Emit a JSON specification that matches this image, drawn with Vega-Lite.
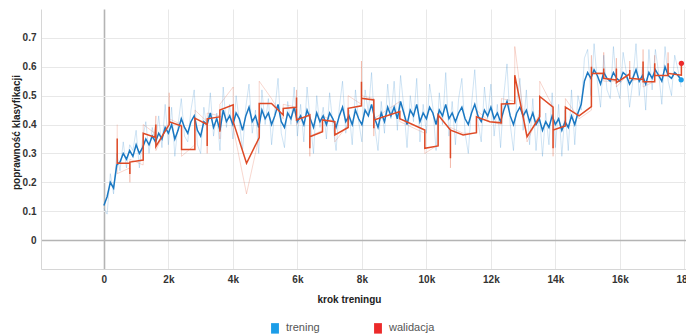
{
  "$schema": "https://vega.github.io/schema/vega-lite/v6.json",
  "width": 645,
  "height": 260,
  "autosize": {"type": "none"},
  "padding": {"left": 41, "top": 9, "right": 0, "bottom": 66},
  "background": "white",
  "datasets": {
    "trening": [
      {"krok":0,"wygladzona":0.12,"surowa":0.11},{"krok":100,"wygladzona":0.15,"surowa":0.09},{"krok":200,"wygladzona":0.20,"surowa":0.23},{"krok":300,"wygladzona":0.18,"surowa":0.16},{"krok":400,"wygladzona":0.26,"surowa":0.30},{"krok":500,"wygladzona":0.27,"surowa":0.24},{"krok":600,"wygladzona":0.30,"surowa":0.34},{"krok":700,"wygladzona":0.28,"surowa":0.25},{"krok":800,"wygladzona":0.31,"surowa":0.33},{"krok":900,"wygladzona":0.29,"surowa":0.31},
      {"krok":1000,"wygladzona":0.33,"surowa":0.38},{"krok":1100,"wygladzona":0.30,"surowa":0.25},{"krok":1200,"wygladzona":0.32,"surowa":0.35},{"krok":1300,"wygladzona":0.35,"surowa":0.41},{"krok":1400,"wygladzona":0.33,"surowa":0.30},{"krok":1500,"wygladzona":0.36,"surowa":0.39},{"krok":1600,"wygladzona":0.34,"surowa":0.33},{"krok":1700,"wygladzona":0.37,"surowa":0.43},{"krok":1800,"wygladzona":0.35,"surowa":0.32},{"krok":1900,"wygladzona":0.39,"surowa":0.47},
      {"krok":2000,"wygladzona":0.37,"surowa":0.33},{"krok":2100,"wygladzona":0.40,"surowa":0.46},{"krok":2200,"wygladzona":0.35,"surowa":0.29},{"krok":2300,"wygladzona":0.38,"surowa":0.40},{"krok":2400,"wygladzona":0.42,"surowa":0.49},{"krok":2500,"wygladzona":0.39,"surowa":0.36},{"krok":2600,"wygladzona":0.37,"surowa":0.34},{"krok":2700,"wygladzona":0.41,"surowa":0.45},{"krok":2800,"wygladzona":0.43,"surowa":0.52},{"krok":2900,"wygladzona":0.38,"surowa":0.33},
      {"krok":3000,"wygladzona":0.36,"surowa":0.30},{"krok":3100,"wygladzona":0.41,"surowa":0.46},{"krok":3200,"wygladzona":0.40,"surowa":0.38},{"krok":3300,"wygladzona":0.44,"surowa":0.51},{"krok":3400,"wygladzona":0.39,"surowa":0.36},{"krok":3500,"wygladzona":0.42,"surowa":0.44},{"krok":3600,"wygladzona":0.38,"surowa":0.31},{"krok":3700,"wygladzona":0.45,"surowa":0.53},{"krok":3800,"wygladzona":0.41,"surowa":0.39},{"krok":3900,"wygladzona":0.43,"surowa":0.47},
      {"krok":4000,"wygladzona":0.40,"surowa":0.35},{"krok":4100,"wygladzona":0.44,"surowa":0.50},{"krok":4200,"wygladzona":0.42,"surowa":0.41},{"krok":4300,"wygladzona":0.38,"surowa":0.31},{"krok":4400,"wygladzona":0.43,"surowa":0.46},{"krok":4500,"wygladzona":0.46,"surowa":0.54},{"krok":4600,"wygladzona":0.41,"surowa":0.37},{"krok":4700,"wygladzona":0.43,"surowa":0.45},{"krok":4800,"wygladzona":0.39,"surowa":0.30},{"krok":4900,"wygladzona":0.45,"surowa":0.52},
      {"krok":5000,"wygladzona":0.42,"surowa":0.40},{"krok":5100,"wygladzona":0.44,"surowa":0.49},{"krok":5200,"wygladzona":0.40,"surowa":0.33},{"krok":5300,"wygladzona":0.43,"surowa":0.45},{"krok":5400,"wygladzona":0.47,"surowa":0.56},{"krok":5500,"wygladzona":0.41,"surowa":0.37},{"krok":5600,"wygladzona":0.39,"surowa":0.32},{"krok":5700,"wygladzona":0.44,"surowa":0.48},{"krok":5800,"wygladzona":0.42,"surowa":0.40},{"krok":5900,"wygladzona":0.46,"surowa":0.53},
      {"krok":6000,"wygladzona":0.41,"surowa":0.36},{"krok":6100,"wygladzona":0.43,"surowa":0.47},{"krok":6200,"wygladzona":0.40,"surowa":0.34},{"krok":6300,"wygladzona":0.45,"surowa":0.53},{"krok":6400,"wygladzona":0.42,"surowa":0.41},{"krok":6500,"wygladzona":0.39,"surowa":0.30},{"krok":6600,"wygladzona":0.44,"surowa":0.50},{"krok":6700,"wygladzona":0.41,"surowa":0.39},{"krok":6800,"wygladzona":0.43,"surowa":0.46},{"krok":6900,"wygladzona":0.40,"surowa":0.35},
      {"krok":7000,"wygladzona":0.44,"surowa":0.51},{"krok":7100,"wygladzona":0.42,"surowa":0.40},{"krok":7200,"wygladzona":0.39,"surowa":0.31},{"krok":7300,"wygladzona":0.43,"surowa":0.46},{"krok":7400,"wygladzona":0.46,"surowa":0.55},{"krok":7500,"wygladzona":0.41,"surowa":0.37},{"krok":7600,"wygladzona":0.43,"surowa":0.45},{"krok":7700,"wygladzona":0.40,"surowa":0.33},{"krok":7800,"wygladzona":0.45,"surowa":0.52},{"krok":7900,"wygladzona":0.42,"surowa":0.41},
      {"krok":8000,"wygladzona":0.40,"surowa":0.34},{"krok":8100,"wygladzona":0.45,"surowa":0.52},{"krok":8200,"wygladzona":0.43,"surowa":0.44},{"krok":8300,"wygladzona":0.47,"surowa":0.58},{"krok":8400,"wygladzona":0.42,"surowa":0.39},{"krok":8500,"wygladzona":0.39,"surowa":0.31},{"krok":8600,"wygladzona":0.44,"surowa":0.48},{"krok":8700,"wygladzona":0.41,"surowa":0.37},{"krok":8800,"wygladzona":0.46,"surowa":0.54},{"krok":8900,"wygladzona":0.43,"surowa":0.42},
      {"krok":9000,"wygladzona":0.46,"surowa":0.55},{"krok":9100,"wygladzona":0.42,"surowa":0.38},{"krok":9200,"wygladzona":0.48,"surowa":0.57},{"krok":9300,"wygladzona":0.44,"surowa":0.46},{"krok":9400,"wygladzona":0.40,"surowa":0.32},{"krok":9500,"wygladzona":0.45,"surowa":0.50},{"krok":9600,"wygladzona":0.43,"surowa":0.41},{"krok":9700,"wygladzona":0.47,"surowa":0.56},{"krok":9800,"wygladzona":0.41,"surowa":0.34},{"krok":9900,"wygladzona":0.44,"surowa":0.47},
      {"krok":10000,"wygladzona":0.42,"surowa":0.37},{"krok":10100,"wygladzona":0.46,"surowa":0.54},{"krok":10200,"wygladzona":0.44,"surowa":0.46},{"krok":10300,"wygladzona":0.40,"surowa":0.31},{"krok":10400,"wygladzona":0.45,"surowa":0.51},{"krok":10500,"wygladzona":0.43,"surowa":0.40},{"krok":10600,"wygladzona":0.47,"surowa":0.58},{"krok":10700,"wygladzona":0.42,"surowa":0.36},{"krok":10800,"wygladzona":0.44,"surowa":0.48},{"krok":10900,"wygladzona":0.41,"surowa":0.33},
      {"krok":11000,"wygladzona":0.44,"surowa":0.49},{"krok":11100,"wygladzona":0.46,"surowa":0.56},{"krok":11200,"wygladzona":0.42,"surowa":0.37},{"krok":11300,"wygladzona":0.40,"surowa":0.30},{"krok":11400,"wygladzona":0.44,"surowa":0.47},{"krok":11500,"wygladzona":0.47,"surowa":0.59},{"krok":11600,"wygladzona":0.43,"surowa":0.41},{"krok":11700,"wygladzona":0.41,"surowa":0.34},{"krok":11800,"wygladzona":0.45,"surowa":0.53},{"krok":11900,"wygladzona":0.43,"surowa":0.42},
      {"krok":12000,"wygladzona":0.46,"surowa":0.54},{"krok":12100,"wygladzona":0.42,"surowa":0.36},{"krok":12200,"wygladzona":0.44,"surowa":0.47},{"krok":12300,"wygladzona":0.41,"surowa":0.32},{"krok":12400,"wygladzona":0.45,"surowa":0.50},{"krok":12500,"wygladzona":0.48,"surowa":0.61},{"krok":12600,"wygladzona":0.43,"surowa":0.40},{"krok":12700,"wygladzona":0.40,"surowa":0.31},{"krok":12800,"wygladzona":0.44,"surowa":0.48},{"krok":12900,"wygladzona":0.46,"surowa":0.56},
      {"krok":13000,"wygladzona":0.43,"surowa":0.38},{"krok":13100,"wygladzona":0.45,"surowa":0.52},{"krok":13200,"wygladzona":0.41,"surowa":0.33},{"krok":13300,"wygladzona":0.44,"surowa":0.49},{"krok":13400,"wygladzona":0.40,"surowa":0.31},{"krok":13500,"wygladzona":0.42,"surowa":0.45},{"krok":13600,"wygladzona":0.38,"surowa":0.29},{"krok":13700,"wygladzona":0.41,"surowa":0.44},{"krok":13800,"wygladzona":0.39,"surowa":0.33},{"krok":13900,"wygladzona":0.43,"surowa":0.51},
      {"krok":14000,"wygladzona":0.40,"surowa":0.32},{"krok":14100,"wygladzona":0.42,"surowa":0.47},{"krok":14200,"wygladzona":0.38,"surowa":0.29},{"krok":14300,"wygladzona":0.41,"surowa":0.45},{"krok":14400,"wygladzona":0.39,"surowa":0.31},{"krok":14500,"wygladzona":0.43,"surowa":0.52},{"krok":14600,"wygladzona":0.40,"surowa":0.33},{"krok":14700,"wygladzona":0.44,"surowa":0.50},{"krok":14800,"wygladzona":0.47,"surowa":0.45},{"krok":14900,"wygladzona":0.55,"surowa":0.63},
      {"krok":15000,"wygladzona":0.58,"surowa":0.66},{"krok":15100,"wygladzona":0.56,"surowa":0.50},{"krok":15200,"wygladzona":0.59,"surowa":0.68},{"krok":15300,"wygladzona":0.57,"surowa":0.55},{"krok":15400,"wygladzona":0.54,"surowa":0.46},{"krok":15500,"wygladzona":0.58,"surowa":0.64},{"krok":15600,"wygladzona":0.56,"surowa":0.52},{"krok":15700,"wygladzona":0.55,"surowa":0.49},{"krok":15800,"wygladzona":0.58,"surowa":0.67},{"krok":15900,"wygladzona":0.56,"surowa":0.53},
      {"krok":16000,"wygladzona":0.55,"surowa":0.49},{"krok":16100,"wygladzona":0.58,"surowa":0.65},{"krok":16200,"wygladzona":0.57,"surowa":0.58},{"krok":16300,"wygladzona":0.54,"surowa":0.46},{"krok":16400,"wygladzona":0.56,"surowa":0.55},{"krok":16500,"wygladzona":0.59,"surowa":0.68},{"krok":16600,"wygladzona":0.55,"surowa":0.50},{"krok":16700,"wygladzona":0.57,"surowa":0.60},{"krok":16800,"wygladzona":0.54,"surowa":0.45},{"krok":16900,"wygladzona":0.58,"surowa":0.66},
      {"krok":17000,"wygladzona":0.56,"surowa":0.52},{"krok":17100,"wygladzona":0.59,"surowa":0.66},{"krok":17200,"wygladzona":0.57,"surowa":0.58},{"krok":17300,"wygladzona":0.55,"surowa":0.47},{"krok":17400,"wygladzona":0.60,"surowa":0.67},{"krok":17500,"wygladzona":0.57,"surowa":0.55},{"krok":17600,"wygladzona":0.56,"surowa":0.50},{"krok":17700,"wygladzona":0.58,"surowa":0.64},{"krok":17800,"wygladzona":0.57,"surowa":0.59},{"krok":17900,"wygladzona":0.555,"surowa":0.53}
    ],
    "walidacja": [
      {"indeks":1,"krok":413,"wygladzona":0.352,"surowa":0.40},{"indeks":2,"krok":413,"wygladzona":0.266,"surowa":0.23},{"indeks":3,"krok":806,"wygladzona":0.266,"surowa":0.25},{"indeks":4,"krok":806,"wygladzona":0.229,"surowa":0.20},{"indeks":5,"krok":806,"wygladzona":0.270,"surowa":0.28},
      {"indeks":6,"krok":1219,"wygladzona":0.277,"surowa":0.26},{"indeks":7,"krok":1219,"wygladzona":0.370,"surowa":0.40},{"indeks":8,"krok":1581,"wygladzona":0.356,"surowa":0.37},{"indeks":9,"krok":1612,"wygladzona":0.400,"surowa":0.43},{"indeks":10,"krok":1612,"wygladzona":0.324,"surowa":0.31},
      {"indeks":11,"krok":2025,"wygladzona":0.400,"surowa":0.41},{"indeks":12,"krok":2025,"wygladzona":0.462,"surowa":0.51},{"indeks":13,"krok":2025,"wygladzona":0.410,"surowa":0.42},{"indeks":14,"krok":2408,"wygladzona":0.395,"surowa":0.40},{"indeks":15,"krok":2408,"wygladzona":0.314,"surowa":0.29},
      {"indeks":16,"krok":2821,"wygladzona":0.314,"surowa":0.33},{"indeks":17,"krok":2821,"wygladzona":0.422,"surowa":0.45},{"indeks":18,"krok":3203,"wygladzona":0.400,"surowa":0.41},{"indeks":19,"krok":3203,"wygladzona":0.326,"surowa":0.30},{"indeks":20,"krok":3203,"wygladzona":0.420,"surowa":0.44},
      {"indeks":21,"krok":3596,"wygladzona":0.427,"surowa":0.43},{"indeks":22,"krok":3596,"wygladzona":0.375,"surowa":0.35},{"indeks":23,"krok":3596,"wygladzona":0.450,"surowa":0.47},{"indeks":24,"krok":4009,"wygladzona":0.468,"surowa":0.53},{"indeks":25,"krok":4009,"wygladzona":0.410,"surowa":0.39},
      {"indeks":26,"krok":4423,"wygladzona":0.266,"surowa":0.16},{"indeks":27,"krok":4816,"wygladzona":0.355,"surowa":0.36},{"indeks":28,"krok":4816,"wygladzona":0.473,"surowa":0.55},{"indeks":29,"krok":5198,"wygladzona":0.473,"surowa":0.49},{"indeks":30,"krok":5560,"wygladzona":0.433,"surowa":0.42},
      {"indeks":31,"krok":5560,"wygladzona":0.456,"surowa":0.47},{"indeks":32,"krok":5973,"wygladzona":0.460,"surowa":0.46},{"indeks":33,"krok":5973,"wygladzona":0.494,"surowa":0.52},{"indeks":34,"krok":5973,"wygladzona":0.416,"surowa":0.40},{"indeks":35,"krok":6386,"wygladzona":0.433,"surowa":0.44},
      {"indeks":36,"krok":6386,"wygladzona":0.318,"surowa":0.29},{"indeks":37,"krok":6386,"wygladzona":0.358,"surowa":0.36},{"indeks":38,"krok":6779,"wygladzona":0.375,"surowa":0.38},{"indeks":39,"krok":6779,"wygladzona":0.416,"surowa":0.43},{"indeks":40,"krok":7161,"wygladzona":0.410,"surowa":0.41},
      {"indeks":41,"krok":7161,"wygladzona":0.364,"surowa":0.34},{"indeks":42,"krok":7574,"wygladzona":0.390,"surowa":0.40},{"indeks":43,"krok":7574,"wygladzona":0.456,"surowa":0.50},{"indeks":44,"krok":7987,"wygladzona":0.465,"surowa":0.47},{"indeks":45,"krok":7987,"wygladzona":0.548,"surowa":0.62},
      {"indeks":46,"krok":7987,"wygladzona":0.491,"surowa":0.50},{"indeks":47,"krok":8370,"wygladzona":0.485,"surowa":0.49},{"indeks":48,"krok":8370,"wygladzona":0.387,"surowa":0.36},{"indeks":49,"krok":8370,"wygladzona":0.416,"surowa":0.42},{"indeks":50,"krok":9176,"wygladzona":0.445,"surowa":0.48},
      {"indeks":51,"krok":9176,"wygladzona":0.420,"surowa":0.41},{"indeks":52,"krok":9951,"wygladzona":0.381,"surowa":0.37},{"indeks":53,"krok":9951,"wygladzona":0.318,"surowa":0.30},{"indeks":54,"krok":10364,"wygladzona":0.326,"surowa":0.33},{"indeks":55,"krok":10364,"wygladzona":0.433,"surowa":0.44},
      {"indeks":56,"krok":10746,"wygladzona":0.381,"surowa":0.38},{"indeks":57,"krok":10746,"wygladzona":0.283,"surowa":0.25},{"indeks":58,"krok":10746,"wygladzona":0.381,"surowa":0.39},{"indeks":59,"krok":11139,"wygladzona":0.364,"surowa":0.37},{"indeks":60,"krok":11552,"wygladzona":0.372,"surowa":0.37},
      {"indeks":61,"krok":11552,"wygladzona":0.427,"surowa":0.45},{"indeks":62,"krok":11965,"wygladzona":0.410,"surowa":0.41},{"indeks":63,"krok":12327,"wygladzona":0.406,"surowa":0.40},{"indeks":64,"krok":12327,"wygladzona":0.471,"surowa":0.49},{"indeks":65,"krok":12740,"wygladzona":0.473,"surowa":0.48},
      {"indeks":66,"krok":12740,"wygladzona":0.571,"surowa":0.67},{"indeks":67,"krok":13122,"wygladzona":0.358,"surowa":0.34},{"indeks":68,"krok":13515,"wygladzona":0.427,"surowa":0.44},{"indeks":69,"krok":13515,"wygladzona":0.497,"surowa":0.55},{"indeks":70,"krok":13928,"wygladzona":0.460,"surowa":0.46},
      {"indeks":71,"krok":13928,"wygladzona":0.318,"surowa":0.29},{"indeks":72,"krok":13928,"wygladzona":0.381,"surowa":0.38},{"indeks":73,"krok":14311,"wygladzona":0.395,"surowa":0.40},{"indeks":74,"krok":14311,"wygladzona":0.460,"surowa":0.49},{"indeks":75,"krok":14734,"wygladzona":0.430,"surowa":0.42},
      {"indeks":76,"krok":15117,"wygladzona":0.462,"surowa":0.45},{"indeks":77,"krok":15117,"wygladzona":0.600,"surowa":0.64},{"indeks":78,"krok":15117,"wygladzona":0.577,"surowa":0.58},{"indeks":79,"krok":15499,"wygladzona":0.577,"surowa":0.58},{"indeks":80,"krok":15499,"wygladzona":0.594,"surowa":0.65},
      {"indeks":81,"krok":15499,"wygladzona":0.560,"surowa":0.55},{"indeks":82,"krok":15892,"wygladzona":0.554,"surowa":0.55},{"indeks":83,"krok":15892,"wygladzona":0.594,"surowa":0.63},{"indeks":84,"krok":15892,"wygladzona":0.545,"surowa":0.53},{"indeks":85,"krok":16305,"wygladzona":0.575,"surowa":0.58},
      {"indeks":86,"krok":16305,"wygladzona":0.589,"surowa":0.62},{"indeks":87,"krok":16305,"wygladzona":0.560,"surowa":0.55},{"indeks":88,"krok":16719,"wygladzona":0.556,"surowa":0.56},{"indeks":89,"krok":16719,"wygladzona":0.618,"surowa":0.66},{"indeks":90,"krok":16719,"wygladzona":0.548,"surowa":0.53},
      {"indeks":91,"krok":17080,"wygladzona":0.548,"surowa":0.55},{"indeks":92,"krok":17080,"wygladzona":0.612,"surowa":0.64},{"indeks":93,"krok":17080,"wygladzona":0.570,"surowa":0.57},{"indeks":94,"krok":17494,"wygladzona":0.570,"surowa":0.57},{"indeks":95,"krok":17494,"wygladzona":0.612,"surowa":0.65},
      {"indeks":96,"krok":17494,"wygladzona":0.577,"surowa":0.58},{"indeks":97,"krok":17907,"wygladzona":0.571,"surowa":0.57},{"indeks":98,"krok":17907,"wygladzona":0.612,"surowa":0.62}
    ],
    "legenda": [
      {"seria":"trening","krok":17900,"wygladzona":0.555},
      {"seria":"walidacja","krok":17907,"wygladzona":0.612}
    ]
  },
  "layer": [
    {
      "data": {"name": "walidacja"},
      "mark": {"type": "line", "color": "#de4a26", "opacity": 0.22, "strokeWidth": 1, "clip": true},
      "encoding": {
        "x": {"field": "krok", "type": "quantitative", "scale": {"domain": [-1950, 18050], "nice": false, "zero": false},
              "axis": {"title": "krok treningu", "values": [0, 2000, 4000, 6000, 8000, 10000, 12000, 14000, 16000, 18000], "labelExpr": "datum.value == 0 ? '0' : (datum.value / 1000) + 'k'"}},
        "y": {"field": "surowa", "type": "quantitative", "scale": {"domain": [-0.1, 0.8], "nice": false},
              "axis": {"title": "poprawność klasyfikacji", "values": [0, 0.1, 0.2, 0.3, 0.4, 0.5, 0.6, 0.7], "format": "~g"}},
        "order": {"field": "indeks", "type": "quantitative"}
      }
    },
    {
      "data": {"name": "trening"},
      "mark": {"type": "line", "color": "#2a86cf", "opacity": 0.22, "strokeWidth": 1, "clip": true},
      "encoding": {
        "x": {"field": "krok", "type": "quantitative", "scale": {"domain": [-1950, 18050], "nice": false, "zero": false},
              "axis": {"title": "krok treningu", "values": [0, 2000, 4000, 6000, 8000, 10000, 12000, 14000, 16000, 18000], "labelExpr": "datum.value == 0 ? '0' : (datum.value / 1000) + 'k'"}},
        "y": {"field": "surowa", "type": "quantitative", "scale": {"domain": [-0.1, 0.8], "nice": false},
              "axis": {"title": "poprawność klasyfikacji", "values": [0, 0.1, 0.2, 0.3, 0.4, 0.5, 0.6, 0.7], "format": "~g"}}
      }
    },
    {
      "data": {"name": "trening"},
      "mark": {"type": "line", "color": "#1a78c2", "strokeWidth": 1.5, "clip": true},
      "encoding": {
        "x": {"field": "krok", "type": "quantitative", "scale": {"domain": [-1950, 18050], "nice": false, "zero": false},
              "axis": {"title": "krok treningu", "values": [0, 2000, 4000, 6000, 8000, 10000, 12000, 14000, 16000, 18000], "labelExpr": "datum.value == 0 ? '0' : (datum.value / 1000) + 'k'"}},
        "y": {"field": "wygladzona", "type": "quantitative", "scale": {"domain": [-0.1, 0.8], "nice": false},
              "axis": {"title": "poprawność klasyfikacji", "values": [0, 0.1, 0.2, 0.3, 0.4, 0.5, 0.6, 0.7], "format": "~g"}}
      }
    },
    {
      "data": {"name": "walidacja"},
      "mark": {"type": "line", "color": "#de4a26", "strokeWidth": 1.5, "clip": true},
      "encoding": {
        "x": {"field": "krok", "type": "quantitative", "scale": {"domain": [-1950, 18050], "nice": false, "zero": false},
              "axis": {"title": "krok treningu", "values": [0, 2000, 4000, 6000, 8000, 10000, 12000, 14000, 16000, 18000], "labelExpr": "datum.value == 0 ? '0' : (datum.value / 1000) + 'k'"}},
        "y": {"field": "wygladzona", "type": "quantitative", "scale": {"domain": [-0.1, 0.8], "nice": false},
              "axis": {"title": "poprawność klasyfikacji", "values": [0, 0.1, 0.2, 0.3, 0.4, 0.5, 0.6, 0.7], "format": "~g"}},
        "order": {"field": "indeks", "type": "quantitative"}
      }
    },
    {
      "data": {"name": "legenda"},
      "mark": {"type": "point", "filled": true, "size": 28, "opacity": 1},
      "encoding": {
        "x": {"field": "krok", "type": "quantitative", "scale": {"domain": [-1950, 18050], "nice": false, "zero": false},
              "axis": {"title": "krok treningu", "values": [0, 2000, 4000, 6000, 8000, 10000, 12000, 14000, 16000, 18000], "labelExpr": "datum.value == 0 ? '0' : (datum.value / 1000) + 'k'"}},
        "y": {"field": "wygladzona", "type": "quantitative", "scale": {"domain": [-0.1, 0.8], "nice": false},
              "axis": {"title": "poprawność klasyfikacji", "values": [0, 0.1, 0.2, 0.3, 0.4, 0.5, 0.6, 0.7], "format": "~g"}},
        "color": {
          "field": "seria", "type": "nominal",
          "scale": {"domain": ["trening", "walidacja"], "range": ["#1b9de8", "#ec2a2a"]},
          "legend": {
            "title": null, "orient": "none", "direction": "horizontal",
            "legendX": 228, "legendY": 313,
            "symbolType": "M-0.75,-1H0.75V1H-0.75Z", "symbolSize": 110, "symbolOpacity": 1,
            "labelFontSize": 11, "labelColor": "#555", "labelOffset": 5,
            "columnPadding": 52
          }
        }
      }
    }
  ],
  "config": {
    "view": {"stroke": null},
    "font": "Liberation Sans Narrow, Liberation Sans, sans-serif",
    "axis": {
      "labelFont": "Liberation Sans Narrow, Liberation Sans, sans-serif",
      "titleFont": "Liberation Sans Narrow, Liberation Sans, sans-serif",
      "labelFontWeight": "bold", "labelColor": "#333", "labelFontSize": 10,
      "titleFontWeight": "bold", "titleColor": "#222", "titleFontSize": 10,
      "ticks": false, "domainColor": "#d6d6d6", "domainWidth": 1
    },
    "axisX": {
      "labelPadding": 5, "labelFlush": false, "labelOverlap": false,
      "gridColor": {"condition": {"test": "datum.value === 0", "value": "#b4b4b4"}, "value": "#e8e8e8"},
      "gridWidth": {"condition": {"test": "datum.value === 0", "value": 1.6}, "value": 1},
      "titleX": 308, "titleY": 30, "titleBaseline": "middle"
    },
    "axisY": {
      "labelPadding": 5, "labelFlush": false,
      "gridColor": {"condition": {"test": "datum.value === 0", "value": "#b4b4b4"}, "value": "#e8e8e8"},
      "gridWidth": {"condition": {"test": "datum.value === 0", "value": 1.6}, "value": 1},
      "titleX": -25, "titleY": 123, "titleBaseline": "middle", "titleAlign": "center"
    },
    "legend": {
      "labelFont": "Liberation Sans Narrow, Liberation Sans, sans-serif"
    }
  }
}
